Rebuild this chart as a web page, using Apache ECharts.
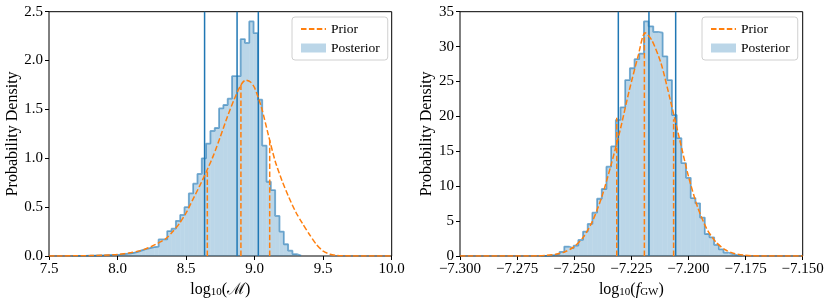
<!DOCTYPE html>
<html><head><meta charset="utf-8">
<script src="https://cdn.jsdelivr.net/npm/echarts@6/dist/echarts.min.js"></script>
<style>html,body{margin:0;padding:0;background:#fff}#c{width:831px;height:307px}</style>
</head><body><div id="c"></div>
<script>
// ---------- Left panel: log10(M) ----------
const leftBinStart = 7.6695;
const leftBinWidth = 0.0315;
const leftPosterior = [
  0.001,0.002,0.002,0.003,0.004,0.005,0.006,0.008,0.01,0.012,0.015,0.02,
  0.025,0.03,0.04,0.055,0.07,0.08,0.09,0.095,0.17,0.17,0.255,0.28,0.36,0.42,
  0.50,0.64,0.74,0.84,1.00,1.15,1.28,1.31,1.51,1.545,1.61,1.84,1.84,2.22,2.18,
  2.40,2.28,1.60,1.13,0.76,0.675,0.41,0.25,0.12,0.055,0.02,0.005
];
const leftPriorX = [7.5,7.6,7.7,7.8,7.9,8.0,8.05,8.1,8.15,8.2,8.25,8.3,8.35,8.4,8.45,8.5,8.55,8.6,8.65,8.7,8.75,8.8,8.85,8.9,8.935,8.97,9.0,9.05,9.1,9.15,9.2,9.25,9.3,9.35,9.4,9.45,9.5,9.55,9.6,9.7,10.0];
const leftPriorY = [0,0.001,0.002,0.004,0.008,0.015,0.024,0.035,0.05,0.07,0.10,0.135,0.175,0.245,0.33,0.44,0.58,0.72,0.87,1.03,1.22,1.42,1.60,1.75,1.80,1.78,1.72,1.52,1.24,0.97,0.77,0.60,0.45,0.33,0.22,0.12,0.05,0.018,0.006,0.001,0];
const leftPostLines = [8.635, 8.872, 9.027];
const leftPriorLinesX = [8.655, 8.90, 9.11];
const leftPriorLinesY = [0.88, 1.75, 1.19];
const leftXTicks = {min: 7.5, max: 10.0, interval: 0.5};
const leftYTicks = {min: 0, max: 2.5, interval: 0.5};

// ---------- Right panel: log10(f_GW) ----------
const rightBinStart = -7.2646;
const rightBinWidth = 0.00205;
const rightPosterior = [
  0.02,0.05,0.15,0.3,0.6,1.35,1.1,1.5,2.3,3.5,4.6,6.2,8.2,9.6,12.8,15.7,19.5,21.3,
  25.2,26.9,28.2,29.0,33.6,32.9,32.1,32.0,28.6,25.2,20.2,16.9,13.3,11.2,8.3,7.55,
  5.5,3.15,2.67,1.58,0.96,0.48,0.3,0.1,0.03
];
const rightPriorX = [-7.300,-7.270,-7.266,-7.262,-7.258,-7.254,-7.250,-7.246,-7.242,-7.238,-7.234,-7.230,-7.226,-7.222,-7.219,-7.216,-7.212,-7.208,-7.204,-7.200,-7.196,-7.192,-7.188,-7.184,-7.180,-7.176,-7.172,-7.168,-7.150];
const rightPriorY = [0,0.01,0.03,0.09,0.25,0.6,1.35,2.7,5.0,8.4,12.9,17.9,23.6,28.7,32.0,30.9,27.6,22.4,16.9,11.4,7.0,3.9,2.0,0.9,0.36,0.13,0.04,0.01,0];
const rightPostLines = [-7.2307, -7.2173, -7.2056];
const rightPriorLinesX = [-7.2314, -7.2193, -7.2065];
const rightPriorLinesY = [19.8, 32.0, 19.6];
const rightXTicks = {min: -7.3, max: -7.15, interval: 0.025};
const rightYTicks = {min: 0, max: 35, interval: 5};

const BLUE = '#1f77b4', ORANGE = '#ff7f0e';
const FILL = 'rgba(31,119,180,0.3)';
const FONT = 'Liberation Serif';

function bins(start, w, vals){ return vals.map((h,i)=>[start+i*w, start+(i+1)*w, h]); }
function outline(start, w, vals){
  const pts=[[start,0]];
  vals.forEach((h,i)=>{ pts.push([start+i*w,h]); pts.push([start+(i+1)*w,h]); });
  pts.push([start+vals.length*w,0]);
  return pts;
}
function zip(xs,ys){ return xs.map((x,i)=>[x,ys[i]]); }

function renderBin(params, api){
  const p0 = api.coord([api.value(0), api.value(2)]);
  const p1 = api.coord([api.value(1), 0]);
  return {type:'rect', shape:{x:p0[0], y:p0[1], width:p1[0]-p0[0], height:p1[1]-p0[1]}, style:{fill:FILL}};
}

function panelSeries(idx, bs, bw, post, px, py, blines, plx, ply, ymax){
  const s = [];
  s.push({type:'custom', name:'Posterior', xAxisIndex:idx, yAxisIndex:idx, renderItem:renderBin,
    encode:{x:[0,1], y:2}, data:bins(bs,bw,post), itemStyle:{color:FILL}, z:1, clip:true});
  s.push({type:'line', name:'outline'+idx, xAxisIndex:idx, yAxisIndex:idx, data:outline(bs,bw,post),
    symbol:'none', lineStyle:{color:'rgba(31,119,180,0.6)', width:1.8}, z:2});
  blines.forEach((x,i)=>s.push({type:'line', name:'q'+idx+i, xAxisIndex:idx, yAxisIndex:idx,
    data:[[x,0],[x,ymax]], symbol:'none', lineStyle:{color:BLUE, width:1.5}, z:3}));
  s.push({type:'line', name:'Prior', xAxisIndex:idx, yAxisIndex:idx, data:zip(px,py), smooth:0.25,
    symbol:'none', showSymbol:false, itemStyle:{color:ORANGE}, lineStyle:{color:ORANGE, width:1.5, type:[5.5,2.4]}, z:4});
  plx.forEach((x,i)=>s.push({type:'line', name:'p'+idx+i, xAxisIndex:idx, yAxisIndex:idx,
    data:[[x,0],[x,ply[i]]], symbol:'none', lineStyle:{color:ORANGE, width:1.5, type:[5.5,2.4]}, z:4}));
  return s;
}

function xAxis(idx, t, fmt, nameRich){
  return {type:'value', gridIndex:idx, min:t.min, max:t.max, interval:t.interval,
    axisLine:{show:false}, splitLine:{show:false},
    axisTick:{show:true, length:4, lineStyle:{color:'#000', width:1}},
    axisLabel:{color:'#000', fontFamily:FONT, fontSize:15, margin:6, formatter:fmt, showMinLabel:true, showMaxLabel:true},
    name:nameRich, nameLocation:'middle', nameGap:24,
    nameTextStyle:{color:'#000', fontFamily:FONT, fontSize:16,
      rich:{a:{fontFamily:FONT, fontSize:16, color:'#000', lineHeight:18, verticalAlign:'bottom'},
            i:{fontFamily:FONT, fontSize:16, fontStyle:'italic', color:'#000', lineHeight:18, verticalAlign:'bottom'},
            s:{fontFamily:FONT, fontSize:11, color:'#000', lineHeight:8, verticalAlign:'bottom'}}}};
}
function yAxis(idx, t, fmt, gap){
  return {type:'value', gridIndex:idx, min:t.min, max:t.max, interval:t.interval,
    axisLine:{show:false}, splitLine:{show:false},
    axisTick:{show:true, length:4, lineStyle:{color:'#000', width:1}},
    axisLabel:{color:'#000', fontFamily:FONT, fontSize:15, margin:6, formatter:fmt},
    name:'Probability Density', nameLocation:'middle', nameGap:gap,
    nameTextStyle:{color:'#000', fontFamily:FONT, fontSize:16}};
}
function legend(left){
  return {left:left, top:17, orient:'vertical', itemWidth:25, itemHeight:9, itemGap:5,
    padding:[5,8,5,8], borderColor:'#d0d0d0', borderWidth:1, borderRadius:3, backgroundColor:'rgba(255,255,255,0.8)',
    textStyle:{fontFamily:FONT, fontSize:13.5, color:'#000'},
    data:[{name:'Prior', itemStyle:{opacity:0}}, {name:'Posterior', icon:'rect', itemStyle:{color:FILL}}], selectedMode:false};
}

const chart = echarts.init(document.getElementById('c'), null, {renderer:'canvas'});
chart.setOption({
  animation:false,
  backgroundColor:'#fff',
  grid:[
    {left:49, top:11.7, width:342.7, height:244.3, show:true, borderColor:'#000', borderWidth:1, backgroundColor:'transparent'},
    {left:460, top:11.7, width:342.7, height:244.3, show:true, borderColor:'#000', borderWidth:1, backgroundColor:'transparent'}
  ],
  legend:[legend(292), legend(702)],
  xAxis:[
    xAxis(0, leftXTicks, v=>v.toFixed(1), '{a|log}{s|10}{a|(ℳ)}'),
    xAxis(1, rightXTicks, v=>v.toFixed(3).replace('-','\u2212'), '{a|log}{s|10}{a|(}{i|f}{s|GW}{a|)}')
  ],
  yAxis:[
    yAxis(0, leftYTicks, v=>v.toFixed(1), 28),
    yAxis(1, rightYTicks, v=>String(Math.round(v)), 24)
  ],
  series:[].concat(
    panelSeries(0, leftBinStart, leftBinWidth, leftPosterior, leftPriorX, leftPriorY, leftPostLines, leftPriorLinesX, leftPriorLinesY, leftYTicks.max),
    panelSeries(1, rightBinStart, rightBinWidth, rightPosterior, rightPriorX, rightPriorY, rightPostLines, rightPriorLinesX, rightPriorLinesY, rightYTicks.max)
  )
});
</script></body></html>
